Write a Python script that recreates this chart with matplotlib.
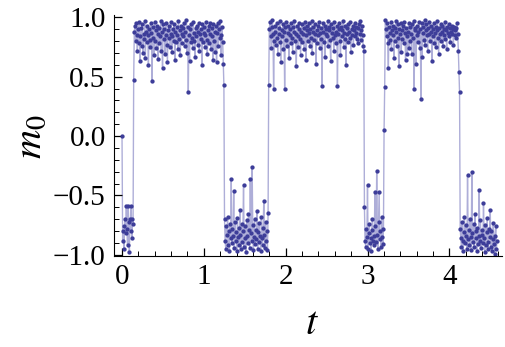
import numpy as np
import matplotlib
matplotlib.use('Agg')
from matplotlib import pyplot as plt
from matplotlib.ticker import MultipleLocator

# time step between samples
dt = 0.0075

# m0 values, one list per state
seg_a = [0.0, -0.88, -0.80, -0.95, -0.76, -0.70, -0.82, -0.59, -0.78, -0.92,
         -0.59, -0.72, -0.98, -0.70, -0.80, -0.59, -0.86, -0.70, -0.74]
seg_b = [0.47, 0.88, 0.93, 0.80, 0.95, 0.85, 0.72, 0.90, 0.78, 0.96, 0.63, 0.84, 0.91, 0.76, 0.94,
         0.70, 0.86, 0.82, 0.97, 0.66, 0.88, 0.79, 0.93, 0.85, 0.60, 0.90, 0.81, 0.75, 0.95, 0.87,
         0.46, 0.92, 0.83, 0.68, 0.96, 0.80, 0.89, 0.74, 0.93, 0.86, 0.65, 0.91, 0.78, 0.84, 0.97,
         0.72, 0.88, 0.57, 0.94, 0.82, 0.90, 0.69, 0.85, 0.95, 0.77, 0.62, 0.89, 0.83, 0.93, 0.75,
         0.86, 0.96, 0.71, 0.84, 0.90, 0.80, 0.94, 0.64, 0.88, 0.79, 0.92, 0.85, 0.73, 0.97, 0.82,
         0.89, 0.68, 0.93, 0.78, 0.86, 0.91, 0.84, 0.95, 0.76, 0.88, 0.81, 0.98, 0.70, 0.92, 0.37,
         0.85, 0.63, 0.90, 0.79, 0.94, 0.83, 0.74, 0.96, 0.87, 0.80, 0.67, 0.91, 0.84, 0.93, 0.77,
         0.88, 0.95, 0.72, 0.86, 0.82, 0.90, 0.60, 0.94, 0.79, 0.87, 0.92, 0.75, 0.85, 0.96, 0.81,
         0.69, 0.89, 0.93, 0.78, 0.86, 0.95, 0.73, 0.91, 0.84, 0.64, 0.94, 0.80, 0.88, 0.71, 0.93,
         0.62, 0.87, 0.95, 0.76, 0.90, 0.83, 0.97, 0.68, 0.85, 0.92, 0.79, 0.61, 0.43]
seg_c = [-0.70, -0.88, -0.95, -0.76, -0.83, -0.68, -0.92, -0.80, -0.97, -0.74, -0.86, -0.36, -0.90, -0.78, -0.84,
         -0.46, -0.94, -0.72, -0.88, -0.81, -0.97, -0.69, -0.85, -0.77, -0.92, -0.62, -0.83, -0.95, -0.74, -0.89,
         -0.80, -0.41, -0.93, -0.76, -0.86, -0.98, -0.71, -0.84, -0.90, -0.66, -0.79, -0.94, -0.36, -0.82, -0.88,
         -0.26, -0.75, -0.96, -0.85, -0.70, -0.91, -0.79, -0.87, -0.63, -0.95, -0.81, -0.73, -0.89, -0.84, -0.97,
         -0.68, -0.86, -0.92, -0.77, -0.55, -0.83, -0.94, -0.72, -0.88, -0.80, -0.96, -0.65]
seg_d = [0.43, 0.90, 0.96, 0.84, 0.74, 0.92, 0.98, 0.86, 0.40, 0.80, 0.93, 0.88, 0.77, 0.95, 0.83,
         0.69, 0.91, 0.86, 0.97, 0.79, 0.62, 0.89, 0.84, 0.94, 0.73, 0.88, 0.40, 0.92, 0.81, 0.96,
         0.76, 0.87, 0.93, 0.66, 0.85, 0.90, 0.78, 0.95, 0.83, 0.71, 0.92, 0.88, 0.97, 0.80, 0.86,
         0.59, 0.93, 0.84, 0.75, 0.90, 0.95, 0.82, 0.68, 0.88, 0.94, 0.79, 0.86, 0.91, 0.73, 0.96,
         0.85, 0.64, 0.89, 0.93, 0.80, 0.87, 0.95, 0.76, 0.90, 0.83, 0.97, 0.70, 0.88, 0.92, 0.81,
         0.86, 0.94, 0.61, 0.89, 0.78, 0.93, 0.85, 0.96, 0.74, 0.87, 0.91, 0.82, 0.42, 0.95, 0.88,
         0.79, 0.93, 0.67, 0.86, 0.90, 0.84, 0.97, 0.76, 0.89, 0.92, 0.81, 0.63, 0.94, 0.87, 0.83,
         0.91, 0.72, 0.96, 0.85, 0.88, 0.78, 0.93, 0.42, 0.86, 0.90, 0.95, 0.80, 0.68, 0.92, 0.84,
         0.89, 0.97, 0.75, 0.87, 0.93, 0.82, 0.60, 0.91, 0.86, 0.94, 0.79, 0.88, 0.96, 0.83, 0.71,
         0.90, 0.85, 0.93, 0.77, 0.89, 0.95, 0.84, 0.92, 0.87, 0.82, 0.91, 0.78, 0.94, 0.86, 0.97,
         0.81, 0.89, 0.93, 0.85, 0.76, 0.72]
seg_e = [-0.60, -0.88, -0.93, -0.78, -0.85, -0.41, -0.95, -0.82, -0.74, -0.90, -0.86, -0.97, -0.79, -0.70, -0.88,
         -0.84, -0.92, -0.47, -0.76, -0.89, -0.29, -0.83, -0.95, -0.72, -0.47, -0.87, -0.80, -0.93, -0.68, -0.85,
         -0.91, -0.78]
seg_f = [0.05, 0.41, 0.98, 0.90, 0.84, 0.95, 0.78, 0.57, 0.92, 0.87, 0.81, 0.96, 0.73, 0.89, 0.93,
         0.85, 0.66, 0.91, 0.80, 0.97, 0.88, 0.76, 0.94, 0.83, 0.59, 0.90, 0.86, 0.95, 0.71, 0.89,
         0.82, 0.93, 0.78, 0.96, 0.87, 0.64, 0.91, 0.84, 0.69, 0.88, 0.95, 0.74, 0.80, 0.92, 0.86,
         0.69, 0.94, 0.83, 0.97, 0.40, 0.89, 0.91, 0.61, 0.85, 0.93, 0.79, 0.88, 0.96, 0.74, 0.90,
         0.31, 0.95, 0.67, 0.87, 0.92, 0.81, 0.98, 0.77, 0.89, 0.94, 0.85, 0.72, 0.91, 0.86, 0.96,
         0.80, 0.88, 0.93, 0.63, 0.90, 0.84, 0.95, 0.78, 0.87, 0.92, 0.75, 0.89, 0.97, 0.83, 0.69,
         0.91, 0.86, 0.94, 0.80, 0.88, 0.93, 0.76, 0.90, 0.85, 0.96, 0.82, 0.89, 0.73, 0.92, 0.87,
         0.94, 0.84, 0.91, 0.79, 0.88, 0.93, 0.86, 0.90, 0.77, 0.92, 0.85, 0.89, 0.91, 0.83, 0.95,
         0.86, 0.72, 0.54, 0.37]
seg_g = [-0.78, -0.86, -0.93, -0.72, -0.88, -0.97, -0.81, -0.68, -0.90, -0.84, -0.75, -0.95, -0.33, -0.87, -0.79,
         -0.92, -0.70, -0.85, -0.96, -0.30, -0.82, -0.89, -0.74, -0.93, -0.66, -0.86, -0.80, -0.97, -0.77, -0.91,
         -0.84, -0.45, -0.88, -0.71, -0.94, -0.83, -0.79, -0.90, -0.56, -0.86, -0.98, -0.75, -0.92, -0.81, -0.69,
         -0.89, -0.95, -0.78, -0.85, -0.62, -0.93, -0.80, -0.97, -0.87, -0.73, -0.91, -0.99, -0.84, -0.76, -0.95,
         -0.88]

m0 = np.array(seg_a + seg_b + seg_c + seg_d + seg_e + seg_f + seg_g)
t = np.arange(len(m0)) * dt

plt.rcParams['font.family'] = 'Liberation Serif'
plt.rcParams['mathtext.fontset'] = 'stix'

fig = plt.figure(figsize=(5.06, 3.47), dpi=100)
ax = fig.add_axes([0.2253, 0.2622, 0.7662, 0.6946])

ax.plot(t, m0, '-', color='#aeaed8', lw=1.0, zorder=1)
ax.plot(t, m0, 'o', color='#3d3d99', ms=3.1, mew=0, zorder=2)

ax.set_xlim(-0.098, 4.64)
ax.set_ylim(-1.01, 1.02)
ax.xaxis.set_major_locator(MultipleLocator(1))
ax.xaxis.set_minor_locator(MultipleLocator(0.2))
ax.yaxis.set_major_locator(MultipleLocator(0.5))
ax.yaxis.set_minor_locator(MultipleLocator(0.1))
ax.set_yticks([-1.0, -0.5, 0.0, 0.5, 1.0])
ax.set_yticklabels(['\u22121.0', '\u22120.5', '0.0', '0.5', '1.0'])

ax.spines['right'].set_visible(False)
ax.spines['top'].set_visible(False)
ax.tick_params(which='both', direction='in', labelsize=21, pad=6)
ax.tick_params(which='major', length=6, width=0.9)
ax.tick_params(which='minor', length=3.5, width=0.7)

fig.text(0.061, 0.605, '$m_0$', fontsize=29, rotation=90, ha='center', va='center')
fig.text(0.617, 0.065, '$t$', fontsize=29, ha='center', va='center')

plt.savefig('out.png', dpi=100)
